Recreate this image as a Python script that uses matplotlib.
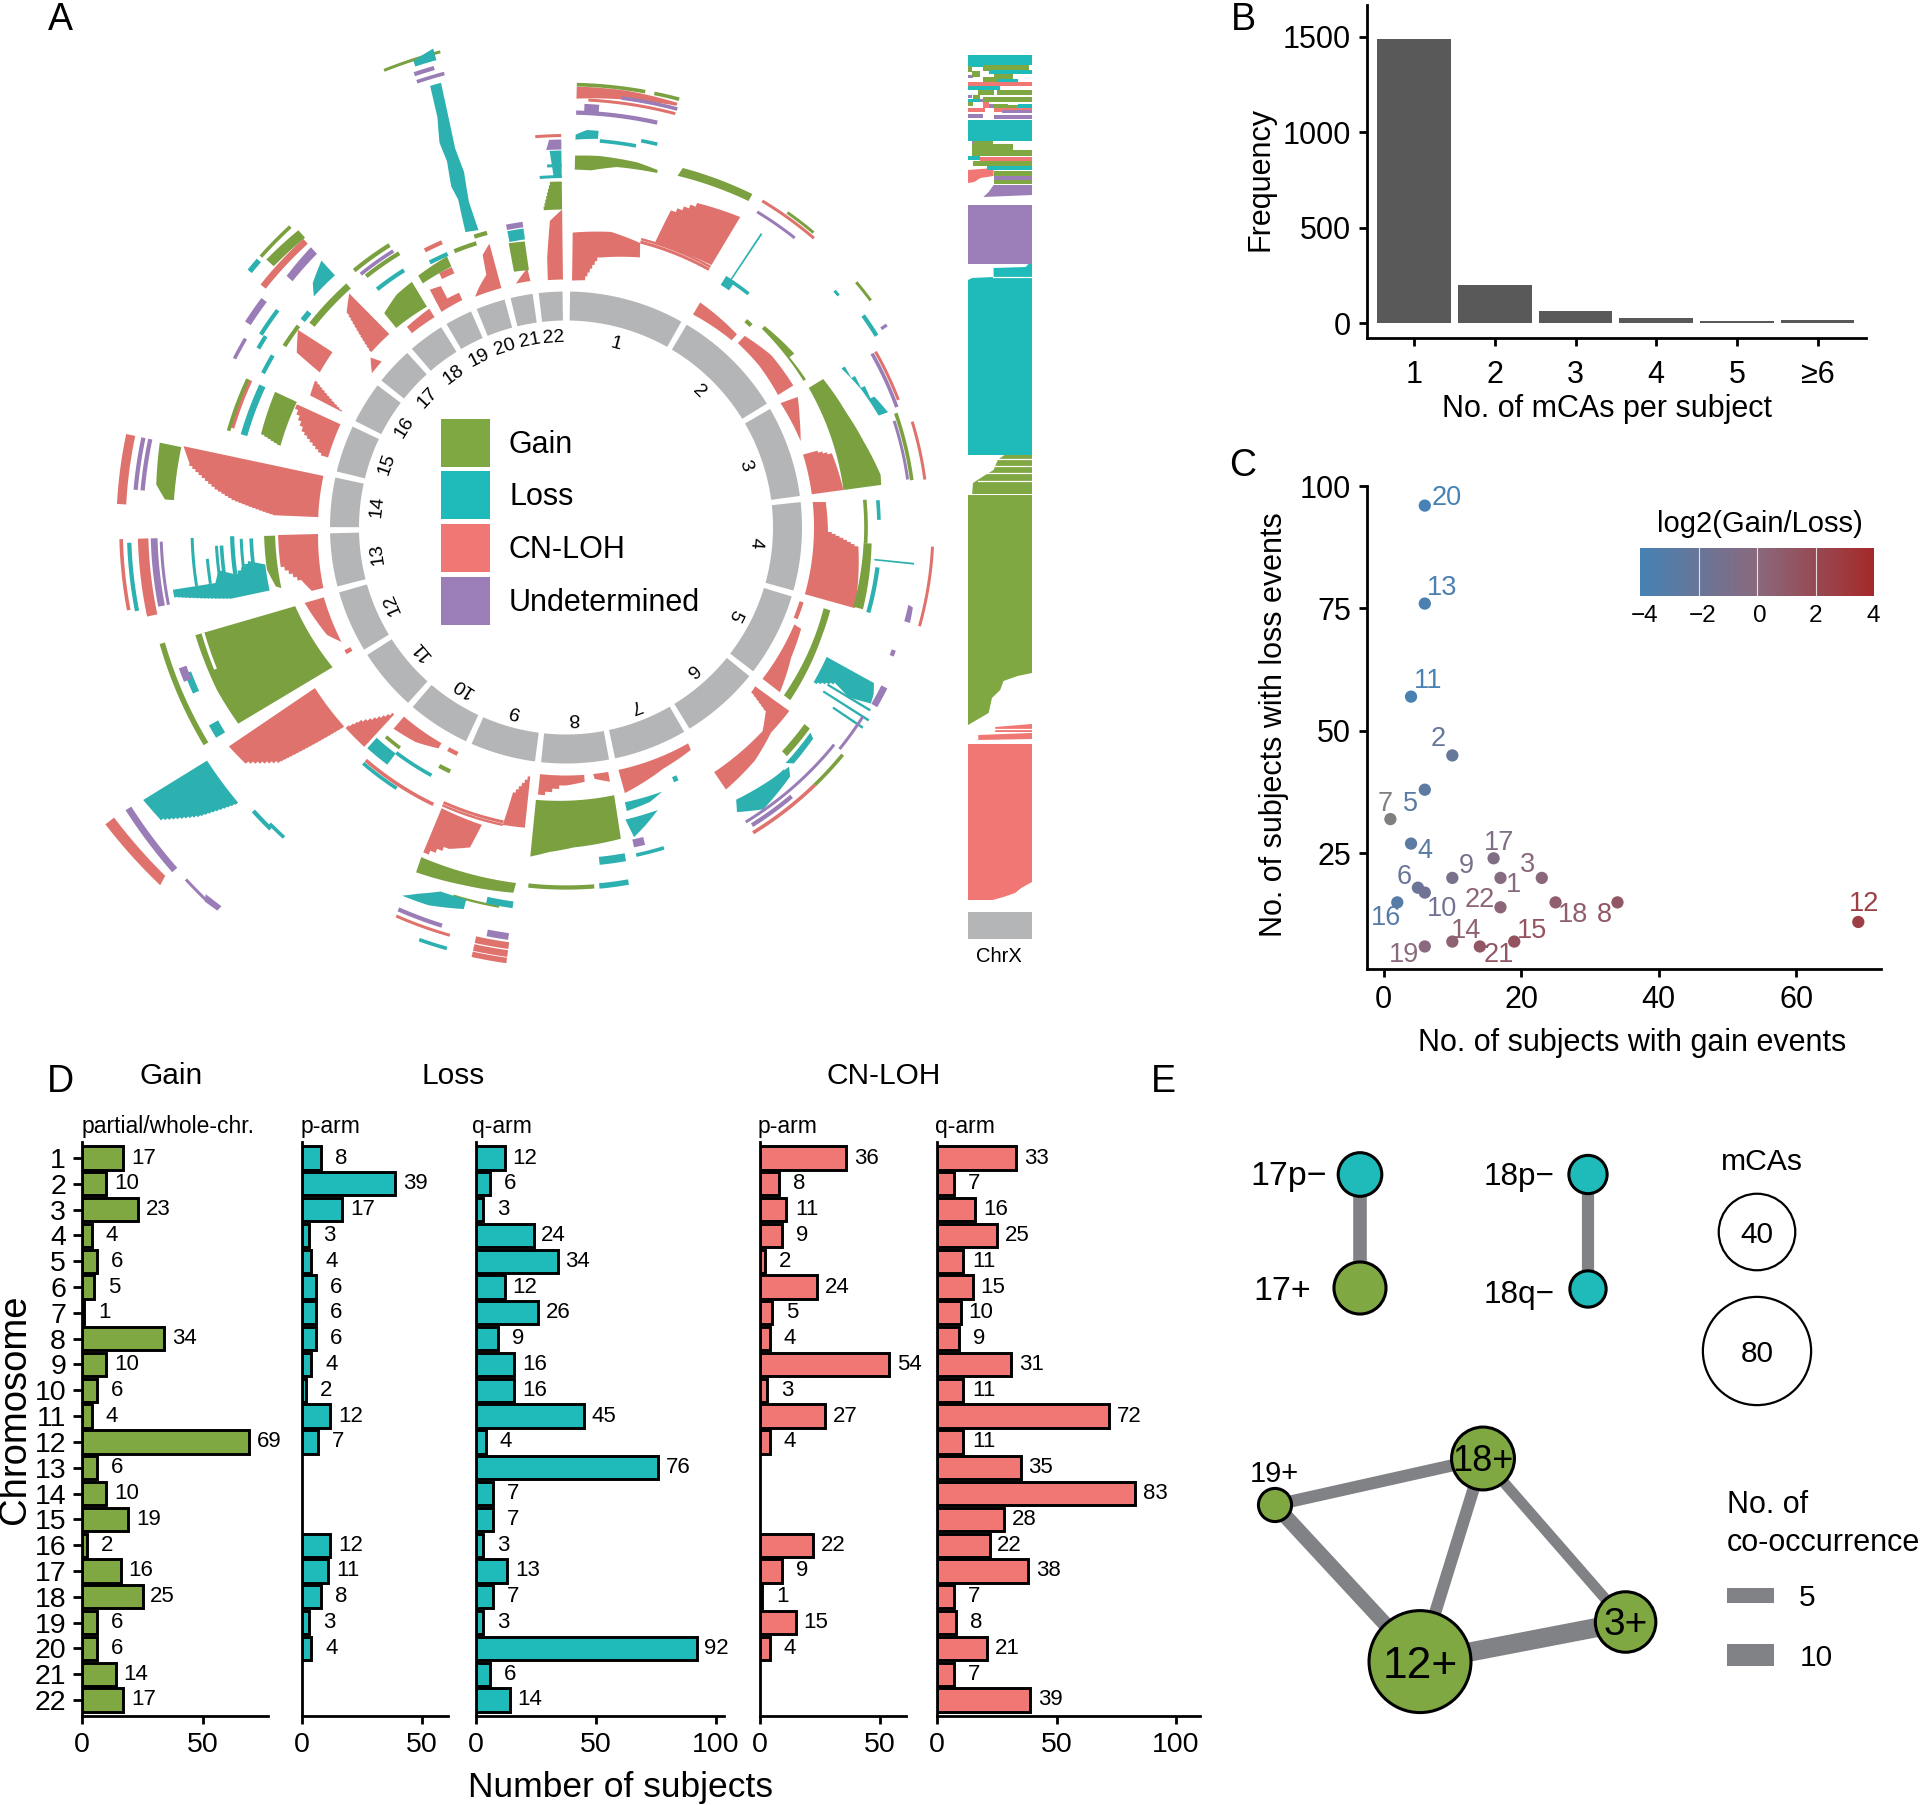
import numpy as np
import matplotlib
matplotlib.use('Agg')
import matplotlib.pyplot as plt
from matplotlib.colors import LinearSegmentedColormap, Normalize
from matplotlib.patches import Circle, Rectangle

plt.rcParams['font.family'] = ['Liberation Sans', 'DejaVu Sans']

W, H = 1920, 1805
GREEN, TEAL, RED, PURPLE = '#7FA843', '#1FBBBA', '#F07773', '#9B7DB7'
A_COL = {'gain': '#7AA040', 'loss': '#2DB0B0', 'loh': '#E0726D', 'und': '#9A7CB6'}
RING = '#B4B5B7'
EDGE = '#808285'

# ---- panel A: chromosome lengths (Mb)
chrom_len = [249, 243, 198, 191, 181, 171, 159, 146, 141, 136, 135, 134,
             115, 107, 102, 90, 81, 78, 59, 63, 48, 51]
chrom_names = [str(i) for i in range(1, 23)]

# blocks of events, (angle around the circle, radius)
gain_blocks = [
    [(1.4, 358), (1.4, 372), (5, 373), (11, 372), (14.4, 369), (14.4, 366), (8, 364), (4, 358)],
    [(17.6, 369), (18, 378), (29.2, 382), (29.2, 374)],
    [(44.6, 279), (44.6, 283), (52.7, 287), (52.7, 281), (58.3, 282), (58.3, 279)],
    [(60.1, 280), (60, 297), (67.8, 303), (74, 310), (80.5, 319), (82.3, 318), (82.3, 280)],
    [(93, 298), (93, 306), (105.4, 308), (105.4, 298)],
    [(107.4, 270), (107.4, 277), (113, 278), (127.6, 283), (127.6, 275)],
    [(129.5, 309), (129.5, 316), (136, 318), (136, 311)],
    [(186.3, 274), (169.8, 272), (170, 316), (178.6, 320), (183, 325), (186.2, 331)],
    [(203.7, 360), (188, 359), (188.2, 369), (196, 372), (203.5, 376)],
    [(253.8, 386), (253.8, 282), (239.1, 272), (239.1, 382), (245, 385)],
    [(268.4, 291), (268.4, 302), (262, 302), (258.5, 296), (258, 291)],
    [(281.8, 393), (281.8, 415), (276, 412), (274, 402), (274, 393)],
    [(295, 297), (295, 321), (287.2, 319), (286, 297)],
    [(311.8, 392), (318, 390), (318, 400), (311.8, 402)],
    [(319.6, 262), (327.8, 261), (327.9, 290), (324, 288), (319.7, 281)],
    [(329.6, 283), (336.3, 285), (336.3, 296), (329.6, 292)],
    [(348.5, 261), (351.8, 260), (351.8, 289), (348.6, 290)],
    [(356, 318), (359.3, 318), (359.3, 346), (357.5, 346)],
]
loss_blocks = [
    [(1.4, 388), (1.4, 393), (3, 398), (4.7, 398), (4.7, 390), (3, 389)],
    [(60, 318), (60, 322), (67, 335), (70.3, 342), (70.3, 332), (65, 326)],
    [(116.4, 291), (116.8, 345), (118.5, 350), (120, 352), (121, 330), (120, 310), (122, 292)],
    [(130, 319), (130.5, 325), (136, 328), (137, 322)],
    [(137, 327), (148, 321), (149, 332), (145, 344), (138, 335)],
    [(160, 281), (167.9, 281), (167.9, 290), (163, 287)],
    [(162, 297), (168.5, 298), (167.6, 317), (165, 308)],
    [(195, 385), (195, 395), (200, 402), (204, 403), (202, 395), (199, 385)],
    [(217, 283), (222, 283), (222, 297), (217, 297)],
    [(230, 428), (237, 428), (237.2, 503), (234.4, 500), (231.8, 465)],
    [(258, 303), (263, 303), (264, 320), (262, 335), (263, 350), (261, 355), (261, 398), (260, 398), (258, 340)],
    [(312.5, 342), (317.5, 342), (317.5, 362), (314, 352)],
    [(341.2, 312), (341.8, 345), (341.4, 360), (342, 385), (341.8, 405), (342.6, 430), (342.9, 462), (344.3, 462),
     (344, 425), (343.7, 395), (344, 370), (343.4, 340), (343.6, 310)],
    [(341.9, 485), (344.5, 485), (344.5, 497), (341.9, 491)],
    [(348.8, 291), (351.9, 291), (351.9, 302), (348.8, 302)],
    [(358, 350), (359.3, 350), (359.3, 377), (357.5, 377)],
]
loh_blocks = [
    [(1.4, 247), (1.3, 295), (8.7, 299), (14.6, 294), (15.3, 280), (7.1, 272), (4.4, 248)],
    [(17.3, 297), (18.3, 334), (22, 350), (29.3, 356), (29, 300)],
    [(1.4, 429), (1.4, 441), (8, 441), (14.7, 439), (14.7, 436), (8, 432)],
    [(30.8, 248), (30.8, 262), (41.5, 258), (41.5, 250)],
    [(43, 252), (43, 262), (50, 268), (58, 268), (58, 250), (50, 252)],
    [(59.9, 248), (60.6, 266), (64.9, 258), (69.8, 250)],
    [(72.9, 248), (73, 263), (74.4, 276), (82.3, 280), (82.3, 248)],
    [(84.1, 248), (84.4, 261), (90.6, 262), (93.7, 293), (105.6, 300), (105.6, 248)],
    [(113, 248), (113.3, 256), (120, 260), (127.6, 270), (127.6, 248)],
    [(130, 247), (129.4, 289), (135, 290), (141, 300), (148.6, 307), (148.8, 286), (136, 283), (132.8, 272), (131.7, 248)],
    [(150.5, 248), (150.7, 255), (158, 260), (167.5, 272), (167.8, 248)],
    [(186, 248), (175.8, 248), (175.8, 255), (180, 258), (186, 272)],
    [(173.7, 248), (170.2, 248), (170.2, 258), (173.5, 253)],
    [(188.2, 248), (187.8, 303), (192, 304), (191.3, 270)],
    [(203.9, 307), (195.8, 309), (196.7, 334), (200, 342), (203.7, 359)],
    [(220.6, 249), (220.6, 265), (215, 262), (210, 255), (210, 249)],
    [(222.6, 250), (222.6, 298), (228, 298), (226.8, 281)],
    [(237.4, 298), (228, 298), (230.7, 372), (233.6, 398), (237, 402)],
    [(237.3, 537), (237.2, 548), (228.6, 541), (229, 531)],
    [(253.9, 272), (253.9, 252), (243, 252), (245.8, 262)],
    [(268.5, 248), (268.5, 288), (262.9, 288), (258.8, 270), (256, 262), (256, 250)],
    [(282, 248), (282, 391), (279.7, 382), (276.2, 350), (274.7, 332), (272.4, 290), (272.4, 248)],
    [(294.6, 248), (294.6, 296), (290, 278), (286.4, 252), (286.4, 248)],
    [(297.3, 249), (297.3, 288), (300.6, 291)],
    [(306.4, 333), (306.9, 292), (302.2, 291), (303, 321)],
    [(308.5, 248), (312, 248), (311, 259)],
    [(317.2, 319), (317.6, 262), (311.8, 262), (314.4, 307)],
    [(321.6, 248), (328, 248), (328, 258), (321.6, 256)],
    [(330, 249), (330.2, 274), (332.6, 272), (332.6, 258), (335.5, 258), (335.5, 250)],
    [(338.5, 248), (340, 255), (342.5, 265), (343, 285), (344.9, 294), (344.9, 248)],
    [(348.4, 249), (351.8, 249), (351.5, 262), (350.5, 258)],
    [(355.8, 248), (359.3, 248), (359.3, 318), (357, 307), (356, 270)],
]
und_blocks = [
    [(102.7, 351), (105.5, 351), (105.5, 357), (103, 356)],
    [(357, 378), (359.3, 378), (359.3, 388), (357.5, 388)],
    [(312, 368), (317.7, 370), (317.7, 379), (312, 376)],
    [(222.3, 512), (224.5, 514), (224, 520), (222.3, 518)],
]

# thin runs of single events, (start angle, end angle, radius, thickness)
gain_arcs = [(1.4, 10.3, 443, 2.5), (11.5, 14.8, 443, 2.5), (35.1, 40, 385, 2), (49.8, 53.3, 380, 2),
             (41, 42.5, 274, 3), (84.7, 93, 300, 2.5), (70.9, 82.2, 349, 2.5), (129.4, 136, 358, 2.5),
             (186, 175.5, 360, 3), (239, 254, 420, 4), (302.8, 307, 335, 3), (308.6, 318, 325, 5),
             (286, 295, 351, 2.5), (320.5, 328, 333, 3), (321.5, 328.7, 321, 3), (338.3, 345.2, 492, 2),
             (338, 342.5, 298, 3), (342.5, 345, 305, 3), (311.6, 317.5, 408, 2.5), (190, 197, 385, 1.5),
             (217, 220.7, 276, 2.5), (205.4, 208, 270, 3)]
loss_arcs = [(5, 10.4, 388, 2.5), (11, 13.4, 394, 2.5), (33.5, 33.8, 325, 56),
             (34.1, 38, 296.5, 2.5), (32.5, 34.5, 293, 8), (48.6, 49.6, 358, 2), (54.5, 58.3, 365, 3),
             (85, 88.6, 313, 2.5), (95.8, 96.1, 330, 40), (97.3, 105.7, 314, 3), (120.8, 121.2, 330, 50),
             (122.3, 122.7, 332, 54), (123.8, 124.2, 340, 36), (138, 148, 327, 2), (156, 157, 274, 4),
             (163, 167.9, 335, 2.5), (169.8, 174.3, 335, 6), (170, 174.7, 360, 4), (188, 192, 381, 5),
             (195.8, 199.6, 437.5, 2.5), (208.5, 217, 282, 2.5), (213, 220.7, 311, 2.5), (224.4, 227.8, 422, 3),
             (222.3, 225, 419, 2.5), (246, 249, 405, 5), (239, 241, 403, 8), (261, 268.4, 374, 2),
             (262, 268.5, 334, 3), (262, 268, 325, 2), (262, 268, 315, 2.5), (262, 267, 345, 2.5),
             (261, 265, 360, 2), (261, 267, 350, 2), (259, 268, 437, 3), (286, 295, 335, 5),
             (297, 300.4, 340, 3), (300.2, 302.5, 356, 3), (302.3, 307, 361, 3), (308.2, 310, 335, 4),
             (321.6, 327.8, 304, 3), (332.8, 336.6, 298, 3), (355.7, 359.3, 351, 2), (357, 359.3, 362, 2),
             (309, 311, 407, 4)]
loh_arcs = [(14.6, 29, 295, 2), (14.6, 29, 298, 1.5), (3, 14.8, 428, 2), (31, 40.6, 381, 2), (60.4, 69, 356, 2),
            (73, 82.4, 362, 2), (93, 105.6, 367, 2), (136, 148.5, 358, 2.5), (192, 204, 301, 2),
            (192, 204, 304, 1.5), (195.9, 203.6, 424, 2), (187.8, 192.4, 422, 5), (187.8, 192.4, 430, 5),
            (187.8, 192.4, 437, 4), (205.6, 220.7, 307, 2.5), (205.6, 208, 251, 3), (240, 241, 250, 5),
            (259.3, 268.5, 445, 2.5), (258, 268.5, 423, 8), (273, 282, 445, 7), (286.6, 295, 348, 2.5),
            (308.5, 317.7, 387, 5), (333.5, 336.3, 281, 5), (333, 336.5, 311, 3), (355.5, 359.3, 392, 2),
            (107.5, 111.6, 247, 3)]
und_arcs = [(1.4, 12.7, 415, 3), (2.5, 4.5, 420, 6), (7.4, 14.9, 433, 2.5), (31.2, 38.3, 369, 2),
            (60.4, 70, 352, 2.5), (72, 82, 345, 2), (57.5, 58, 376, 5), (116.6, 120, 356, 5),
            (122.5, 129, 352, 2), (129, 148.6, 345, 2), (140, 148, 351, 3), (110.5, 111.5, 350, 3),
            (197.3, 203.7, 417, 3), (188, 191, 413, 5), (228.8, 237.3, 520, 5), (224, 227.2, 518, 2),
            (259, 268.5, 412, 5), (259, 268, 405, 2), (275, 282, 432, 3), (275, 282, 425, 3),
            (297, 300.5, 372, 2.5), (302.7, 307, 378, 5), (321, 328, 326, 2.5), (341.5, 345, 470, 2.5),
            (341.5, 344, 478, 3), (348.8, 351.9, 306, 4), (248, 250, 408, 6), (166, 168, 323, 6)]

# ---- chrX: (start Mb, end Mb, top row, bottom row)
chrx_gain = [[(0, 495), (155, 495), (155, 673), (120, 676), (86, 681), (78, 690), (58, 698), (50, 713), (25, 719), (0, 725)],
             [(98, 452), (155, 452), (155, 494), (10, 494), (12, 483), (38, 476), (62, 470), (72, 460)]]
chrx_loss = [[(0, 280), (10, 278), (62, 277), (62, 268), (140, 267), (150, 262), (155, 262), (155, 455), (0, 455)],
             [(0, 120), (155, 120), (155, 141), (0, 141)]]
chrx_loh = [[(0, 744), (155, 744), (155, 882), (129, 888), (114, 893), (86, 897), (60, 900), (0, 900)],
            [(66, 727), (155, 724), (155, 732), (66, 732)],
            [(25, 735), (155, 733), (155, 739), (25, 740)],
            [(0, 170), (62, 168), (62, 176), (30, 178), (15, 182), (0, 183)]]
chrx_und = [[(0, 205), (155, 205), (155, 264), (0, 264)],
            [(62, 185), (155, 185), (155, 195), (37, 197), (50, 192)]]
chrx_rows = [('loss', 0, 155, 55, 60), ('und', 60, 75, 60, 63), ('loss', 0, 41, 58, 67), ('loss', 41, 155, 58, 65),
             ('gain', 37, 147, 65, 71), ('gain', 0, 9, 66, 72), ('und', 0, 13, 75, 78), ('gain', 9, 29, 71, 77),
             ('loss', 50, 155, 70, 74), ('gain', 62, 110, 74, 79), ('gain', 37, 70, 77, 82), ('loss', 70, 120, 79, 82),
             ('loh', 0, 155, 82, 86), ('loss', 0, 78, 86, 90), ('gain', 70, 155, 90, 95), ('gain', 25, 62, 90, 95),
             ('und', 0, 10, 95, 98), ('gain', 13, 29, 95, 99), ('gain', 37, 155, 97, 102), ('und', 30, 37, 99, 102),
             ('loss', 0, 30, 99, 102), ('gain', 0, 13, 102, 106), ('loh', 37, 50, 102, 108), ('und', 50, 62, 104, 108),
             ('gain', 96, 143, 105, 109), ('loss', 120, 155, 104, 108), ('gain', 62, 96, 104, 108),
             ('loh', 0, 41, 108, 112), ('loh', 62, 155, 108, 112), ('und', 82, 155, 110, 113), ('und', 0, 37, 114, 118),
             ('und', 62, 155, 115, 119), ('gain', 10, 60, 141, 144), ('und', 10, 15, 141, 146),
             ('gain', 10, 110, 144, 150), ('gain', 10, 155, 150, 156), ('loss', 0, 29, 156, 160), ('loh', 29, 155, 157, 161),
             ('gain', 13, 155, 161, 166), ('loss', 45, 155, 166, 170), ('gain', 62, 155, 171, 177), ('und', 62, 155, 176, 182),
             ('gain', 62, 155, 180, 184)]
chrx_gaps = [(60, 155, 277), (70, 155, 459), (65, 155, 466), (40, 155, 473), (25, 155, 481), (66, 155, 729)]

# ---- panel B
mca_labels = ['1', '2', '3', '4', '5', '≥6']
mca_freq = [1490, 200, 65, 28, 10, 15]

# ---- panel C and D, chromosomes 1..22
gain_all = [17, 10, 23, 4, 6, 5, 1, 34, 10, 6, 4, 69, 6, 10, 19, 2, 16, 25, 6, 6, 14, 17]
loss_all = [20, 45, 20, 27, 38, 18, 32, 15, 20, 17, 57, 11, 76, 7, 7, 15, 24, 15, 6, 96, 6, 14]
loss_p = [8, 39, 17, 3, 4, 6, 6, 6, 4, 2, 12, 7, None, None, None, 12, 11, 8, 3, 4, None, None]
loss_q = [12, 6, 3, 24, 34, 12, 26, 9, 16, 16, 45, 4, 76, 7, 7, 3, 13, 7, 3, 92, 6, 14]
loh_p = [36, 8, 11, 9, 2, 24, 5, 4, 54, 3, 27, 4, None, None, None, 22, 9, 1, 15, 4, None, None]
loh_q = [33, 7, 16, 25, 11, 15, 10, 9, 31, 11, 72, 11, 35, 83, 28, 22, 38, 7, 8, 21, 7, 39]

# label offsets in px (right, up) for panel C
c_offset = {1: (13, -7), 2: (-14, 16), 3: (-14, 13), 4: (14, -7), 5: (-14, -14), 6: (-14, 11), 7: (-5, 15),
            8: (-13, -13), 9: (14, 12), 10: (17, -16), 11: (17, 16), 12: (6, 18), 13: (17, 16), 14: (14, 11),
            15: (18, 11), 16: (-11, -16), 17: (5, 15), 18: (17, -13), 19: (-21, -9), 20: (22, 8), 21: (19, -9),
            22: (-21, 7)}

# ---- panel E
node_names = ['17p−', '17+', '18p−', '18q−', '19+', '18+', '3+', '12+']
node_mcas = [13, 18.5, 10, 9, 7.5, 27, 25, 71]
node_type = ['loss', 'gain', 'loss', 'loss', 'gain', 'gain', 'gain', 'gain']
node_xy = [(1360, 1174.5), (1360, 1288), (1588, 1174.5), (1588, 1289), (1275, 1505), (1483, 1458.5), (1625.6, 1622), (1420, 1661.6)]
edges = [(0, 1, 4), (2, 3, 3), (4, 5, 3), (4, 7, 5), (5, 7, 3), (5, 6, 2), (7, 6, 8)]


def ax_px(l, t, r, b, **kw):
    return fig.add_axes([l / W, 1 - b / H, (r - l) / W, (b - t) / H], **kw)


def stair(pts):
    out = []
    for (a0, r0), (a1, r1) in zip(pts, pts[1:] + pts[:1]):
        if abs(a1 - a0) > 1 and abs(r1 - r0) > 12:
            n = max(1, int(abs(r1 - r0) / 3.5))
            aa = np.linspace(a0, a1, n + 1)
            rr = np.linspace(r0, r1, n + 1)
            for i in range(n):
                out.append((aa[i], rr[i]))
                out.append((aa[i + 1], rr[i]))
        else:
            out.append((a0, r0))
    # arcs need points along them on a polar axes
    th, rad = [], []
    for (a0, r0), (a1, r1) in zip(out, out[1:] + out[:1]):
        k = max(2, int(abs(a1 - a0) / 0.5) + 2)
        th += list(np.linspace(a0, a1, k))
        rad += list(np.linspace(r0, r1, k))
    return np.radians(th), rad


def arc_block(a0, a1, r, w):
    if w < 10:
        w = w * 1.25 + 0.5
    return [(a0, r - w / 2), (a0, r + w / 2), (a1, r + w / 2), (a1, r - w / 2)]


def style_axis(ax, lw=2.0):
    for s in ['top', 'right']:
        ax.spines[s].set_visible(False)
    for s in ['left', 'bottom']:
        ax.spines[s].set_linewidth(lw)
    ax.tick_params(width=lw, length=5.5)


fig = plt.figure(figsize=(W / 100, H / 100), dpi=100)

# ---- A, circular part
cx, cy, rmax = 566, 527.5, 560
pa = fig.add_axes([(cx - rmax) / W, 1 - (cy + rmax) / H, 2 * rmax / W, 2 * rmax / H], projection='polar')
pa.set_theta_zero_location('N')
pa.set_theta_direction(-1)
pa.set_ylim(0, rmax)
pa.axis('off')

deg_per_mb = 0.1135
gap = 1.5
a = 1.0
for n, l in zip(chrom_names, chrom_len):
    a1 = a + l * deg_per_mb
    t, r = stair(arc_block(a, a1, 221.5, 29))
    pa.fill(t, r, color=RING, lw=0)
    pa.text(np.radians((a + a1) / 2), 190, n, rotation=-(a + a1) / 2, rotation_mode='anchor',
            ha='center', va='center', fontsize=14)
    a = a1 + gap

for key, blocks, arcs in [('loh', loh_blocks, loh_arcs), ('gain', gain_blocks, gain_arcs),
                          ('loss', loss_blocks, loss_arcs), ('und', und_blocks, und_arcs)]:
    for b in blocks:
        t, r = stair(b)
        pa.fill(t, r, color=A_COL[key], lw=0)
    for arc in arcs:
        t, r = stair(arc_block(*arc))
        pa.fill(t, r, color=A_COL[key], lw=0)
# white strip inside the chr12 gain block
t, r = stair(arc_block(248, 253.8, 378, 2))
pa.fill(t, r, color='white', lw=0)

# ---- A, chrX strip
xa = ax_px(968, 50, 1032, 945)
xa.set_xlim(0, 155)
xa.set_ylim(945, 50)
xa.axis('off')
x_col = {'gain': GREEN, 'loss': TEAL, 'loh': RED, 'und': PURPLE}
for key, blocks in [('gain', chrx_gain), ('loss', chrx_loss), ('loh', chrx_loh), ('und', chrx_und)]:
    for b in blocks:
        xa.fill([p[0] for p in b], [p[1] for p in b], color=x_col[key], lw=0)
for key, x0, x1, r0, r1 in chrx_rows:
    xa.fill_between([x0, x1], r0, r1, color=x_col[key], lw=0)
for x0, x1, row in chrx_gaps:
    xa.plot([x0, x1], [row, row], color='white', lw=0.9)
xa.fill_between([0, 155], 912, 939, color=RING, lw=0)

# ---- B
ab = ax_px(1367, 5, 1866, 338)
ab.bar(range(1, 7), mca_freq, width=0.91, color='#595959')
ab.set_xlim(0.416, 6.6)
ab.set_ylim(-78, 1666)
ab.set_xticks(range(1, 7), mca_labels)
ab.set_yticks([0, 500, 1000, 1500])
style_axis(ab)
ab.tick_params(labelsize=22, pad=6)
ab.tick_params(axis='x', pad=10)

# ---- C
ac = ax_px(1367, 486, 1881, 969)
ac.set_xlim(-2.4, 72.3)
ac.set_ylim(1.4, 100)
ratio = np.log2(np.array(gain_all) / np.array(loss_all))
cmap = LinearSegmentedColormap.from_list('gl', ['#4682B4', '#8A6A7E', '#A52A2A'])
cmap.set_under('#808080')
norm = Normalize(-4, 4)
ac.scatter(gain_all, loss_all, c=ratio + (ratio == -4) * 0.001, cmap=cmap, norm=norm, s=78, lw=0, zorder=3)
for i, (gx, ly) in enumerate(zip(gain_all, loss_all)):
    dx, dy = c_offset[i + 1]
    ac.annotate(chrom_names[i], (gx, ly), xytext=(dx * 0.72, dy * 0.72), textcoords='offset points',
                ha='center', va='center', fontsize=19.5, color=cmap(norm(ratio[i])), annotation_clip=False)
ac.set_xticks([0, 20, 40, 60])
ac.set_yticks([25, 50, 75, 100])
style_axis(ac)
ac.tick_params(labelsize=22, pad=6)

cb = ax_px(1640, 548, 1874, 596)
cb.imshow(np.linspace(-4, 4, 256)[None, :], cmap=cmap, norm=norm, aspect='auto', extent=[-4, 4, 0, 1])
for v in [-2, 0, 2]:
    cb.plot([v, v], [0, 1], color='white', lw=0.8, alpha=0.8)
cb.set_xlim(-4, 4)
cb.set_ylim(0, 1)
cb.axis('off')

# ---- D
panels = [(82, 268, 76.8, gain_all, GREEN, [0, 50]), (301.5, 448.4, 61, loss_p, TEAL, [0, 50]),
          (476, 724, 103.4, loss_q, TEAL, [0, 50, 100]), (760, 906, 61, loh_p, RED, [0, 50]),
          (937, 1200, 110, loh_q, RED, [0, 50, 100])]
rows = np.arange(1, 23)
for k, (l, r, xmax, vals, col, ticks) in enumerate(panels):
    ax = ax_px(l, 1141.5, r, 1716)
    v = np.array([0 if x is None else x for x in vals])
    keep = np.array([x is not None for x in vals])
    ax.barh(rows[keep], v[keep], height=0.9, color=col, edgecolor='black', linewidth=2.1)
    ax.set_xlim(0, xmax)
    ax.set_ylim(22.62, 0.36)
    ax.set_xticks(ticks)
    style_axis(ax)
    ax.tick_params(axis='x', labelsize=20.5, pad=6)
    for y, val, ok in zip(rows, v, keep):
        if ok:
            ax.annotate(str(val), (val, y), xytext=(14.5, 0), textcoords='offset points', ha='center',
                        va='center', fontsize=16)
    if k == 0:
        ax.set_yticks(rows, chrom_names)
        ax.tick_params(axis='y', labelsize=20.5, pad=5, length=6.5)
    else:
        ax.set_yticks([])

# ---- text, legends and panel E on a full size overlay in pixels
ov = fig.add_axes([0, 0, 1, 1], facecolor='none')
ov.set_xlim(0, W)
ov.set_ylim(H, 0)
ov.axis('off')


def put(x, y, s, **kw):
    # matplotlib centres a little higher than the reference
    if 'rotation' in kw:
        x = x + 1
    else:
        y = y + 3
    return ov.text(x, y, s, **kw)


for letter, x, y in [('A', 46, 17), ('B', 1229, 17), ('C', 1229, 463), ('D', 46, 1079), ('E', 1149, 1079)]:
    put(x + 14, y, letter, fontsize=27, ha='center', va='center')

legend_y = [419, 471, 524, 577]
legend_txt = ['Gain', 'Loss', 'CN-LOH', 'Undetermined']
for y, txt, col in zip(legend_y, legend_txt, [GREEN, TEAL, RED, PURPLE]):
    ov.add_patch(Rectangle((441, y), 49, 48, color=col, lw=0))
    put(509, y + 23, txt, fontsize=22, va='center')
put(999, 954, 'ChrX', fontsize=14.5, ha='center', va='center')

put(1607, 406.5, 'No. of mCAs per subject', fontsize=22, ha='center', va='center')
put(1259, 179, 'Frequency', fontsize=22, rotation=90, ha='center', va='center')
put(1632, 1040, 'No. of subjects with gain events', fontsize=22, ha='center', va='center')
put(1273, 725, 'No. of subjects with loss events', fontsize=22, rotation=90, ha='center', va='center')
put(1760, 521, 'log2(Gain/Loss)', fontsize=21, ha='center', va='center')
for v, x in zip(['−4', '−2', '0', '2', '4'], [1645, 1703, 1760, 1816, 1873]):
    put(x, 613, v, fontsize=17.5, ha='center', va='center')

put(171, 1073, 'Gain', fontsize=21.5, ha='center', va='center')
put(453, 1073, 'Loss', fontsize=21.5, ha='center', va='center')
put(884, 1073, 'CN-LOH', fontsize=21.5, ha='center', va='center')
for x, txt in [(82, 'partial/whole-chr.'), (301, 'p-arm'), (472, 'q-arm'), (758, 'p-arm'), (935, 'q-arm')]:
    put(x, 1124, txt, fontsize=16.5, va='center')
put(14, 1409, 'Chromosome', fontsize=27.5, rotation=90, ha='center', va='center')
put(620, 1784, 'Number of subjects', fontsize=25.5, ha='center', va='center')

for i, j, w in edges:
    (x0, y0), (x1, y1) = node_xy[i], node_xy[j]
    ov.plot([x0, x1], [y0, y1], color=EDGE, lw=(8 + 1.4 * w) * 0.72, solid_capstyle='butt', zorder=2)
for name, m, kind, (x, y) in zip(node_names, node_mcas, node_type, node_xy):
    col = GREEN if kind == 'gain' else TEAL
    ov.add_patch(Circle((x, y), 6.05 * np.sqrt(m), fc=col, ec='black', lw=2.2, zorder=3))
put(1289, 1174, '17p−', fontsize=24.5, ha='center', va='center')
put(1282, 1288, '17+', fontsize=24.5, ha='center', va='center')
put(1519, 1174, '18p−', fontsize=22.7, ha='center', va='center')
put(1519, 1292, '18q−', fontsize=22.7, ha='center', va='center')
put(1274, 1471, '19+', fontsize=21, ha='center', va='center')
put(1483, 1458.5, '18+', fontsize=26, ha='center', va='center', zorder=4)
put(1625.6, 1622, '3+', fontsize=28, ha='center', va='center', zorder=4)
put(1420, 1663, '12+', fontsize=32, ha='center', va='center', zorder=4)

put(1762, 1159, 'mCAs', fontsize=21.7, ha='center', va='center')
for m, y in [(40, 1232), (80, 1351)]:
    ov.add_patch(Circle((1757, y), 6.05 * np.sqrt(m), fc='white', ec='black', lw=1.6))
    put(1757, y, str(m), fontsize=21.5, ha='center', va='center')
put(1727, 1502, 'No. of', fontsize=22, va='center')
put(1727, 1540, 'co-occurrence', fontsize=22, va='center')
for w, y, h in [(5, 1588, 15), (10, 1644, 22)]:
    ov.add_patch(Rectangle((1727, y), 47, h, color=EDGE, lw=0))
put(1807, 1595.5, '5', fontsize=21.5, ha='center', va='center')
put(1816, 1655, '10', fontsize=21.5, ha='center', va='center')

fig.savefig('out.png', dpi=100)
